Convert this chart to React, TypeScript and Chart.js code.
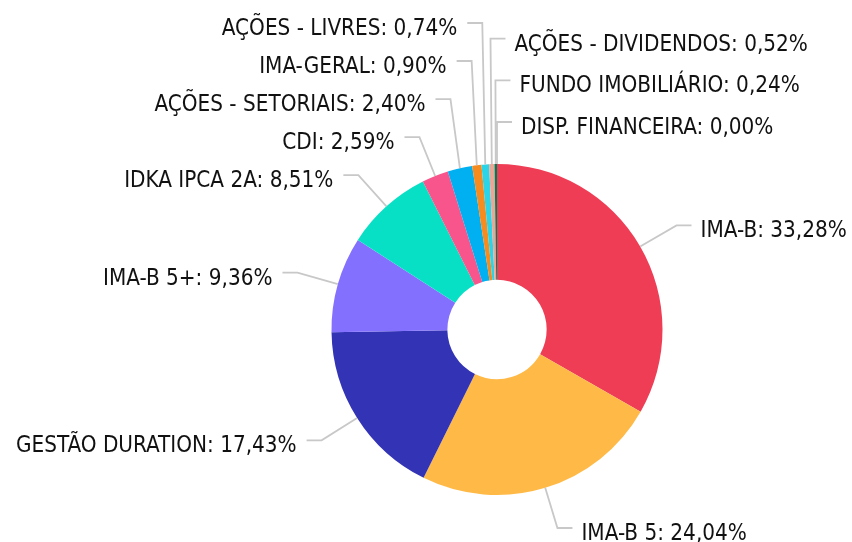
import React, { useEffect, useRef } from 'react';
import { Chart, registerables } from 'chart.js';

Chart.register(...registerables);

const categories = [
  'IMA-B',
  'IMA-B 5',
  'GESTÃO DURATION',
  'IMA-B 5+',
  'IDKA IPCA 2A',
  'CDI',
  'AÇÕES - SETORIAIS',
  'IMA-GERAL',
  'AÇÕES - LIVRES',
  'AÇÕES - DIVIDENDOS',
  'FUNDO IMOBILIÁRIO',
  'DISP. FINANCEIRA',
];
const shares = [33.28, 24.04, 17.43, 9.36, 8.51, 2.59, 2.4, 0.9, 0.74, 0.52, 0.24, 0.0];
const sliceColors = [
  '#EF3D55',
  '#FFB946',
  '#3333B5',
  '#8470FF',
  '#08E0C6',
  '#F8558D',
  '#00B0F0',
  '#F68B1F',
  '#2CD4E8',
  '#E8A898',
  '#007A50',
  '#999999',
];

const fmt = (v: number) => v.toFixed(2).replace('.', ',') + '%';
const FONT = '22.3px "DejaVu Sans Condensed", "DejaVu Sans", sans-serif';

const outsideLabels = {
  id: 'outsideLabels',
  afterDatasetsDraw(chart: any) {
    const ctx = chart.ctx as CanvasRenderingContext2D;
    const meta = chart.getDatasetMeta(0);
    const LEN1 = 42;
    const LEN2 = 15;
    const S = 41.7;
    const TOP = 23;
    const items = meta.data.map((arc: any, i: number) => {
      const p = arc.getProps(['x', 'y', 'startAngle', 'endAngle', 'outerRadius'], true);
      const mid = (p.startAngle + p.endAngle) / 2;
      const dx = Math.cos(mid);
      const dy = Math.sin(mid);
      return {
        i,
        right: dx > -0.05,
        ex: p.x + p.outerRadius * dx,
        ey: p.y + p.outerRadius * dy,
        px: p.x + (p.outerRadius + LEN1) * dx,
        ny: p.y + (p.outerRadius + LEN1) * dy,
        ly: 0,
      };
    });
    for (const side of [true, false]) {
      const list = items
        .filter((it: any) => it.right === side)
        .sort((a: any, b: any) => Math.round(a.ny) - Math.round(b.ny) || a.i - b.i);
      const n = list.length;
      if (!n) continue;
      list[n - 1].ly = list[n - 1].ny;
      for (let k = n - 2; k >= 0; k--) list[k].ly = Math.min(list[k].ny, list[k + 1].ly - S);
      if (list[0].ly < TOP) {
        let k = 0;
        while (k < n - 1 && list[k].ly !== list[k].ny) k++;
        if (k === 0) list[0].ly = TOP;
        else for (let j = 0; j <= k; j++) list[j].ly = TOP + ((list[k].ny - TOP) * j) / k;
      }
    }
    ctx.save();
    ctx.font = FONT;
    ctx.lineWidth = 1.8;
    ctx.strokeStyle = '#c8c8c8';
    ctx.fillStyle = '#111111';
    ctx.textBaseline = 'alphabetic';
    for (const it of items) {
      const endX = it.px + (it.right ? LEN2 : -LEN2);
      ctx.beginPath();
      ctx.moveTo(it.ex, it.ey);
      ctx.lineTo(it.px, it.ly);
      ctx.lineTo(endX, it.ly);
      ctx.stroke();
      const text = categories[it.i] + ': ' + fmt(shares[it.i]);
      ctx.textAlign = it.right ? 'left' : 'right';
      ctx.fillText(text, it.right ? endX + 9 : endX - 10, it.ly + 12);
    }
    ctx.restore();
  },
};

export default function App() {
  const ref = useRef<HTMLCanvasElement | null>(null);
  useEffect(() => {
    if (!ref.current) return;
    const chart = new Chart(ref.current, {
      type: 'doughnut',
      data: {
        labels: categories,
        datasets: [
          {
            data: shares,
            backgroundColor: sliceColors,
            borderWidth: 0,
          },
        ],
      },
      options: {
        responsive: false,
        animation: false,
        cutout: '30%',
        layout: { padding: { left: 331, right: 189, top: 164, bottom: 47 } },
        plugins: {
          legend: { display: false },
          tooltip: { enabled: false },
        },
      },
      plugins: [outsideLabels],
    });
    return () => chart.destroy();
  }, []);
  return (
    <div style={{ position: 'absolute', left: 0, top: 0, width: 852, height: 542, background: '#fff' }}>
      <canvas ref={ref} width={852} height={542} style={{ display: 'block' }} />
    </div>
  );
}
